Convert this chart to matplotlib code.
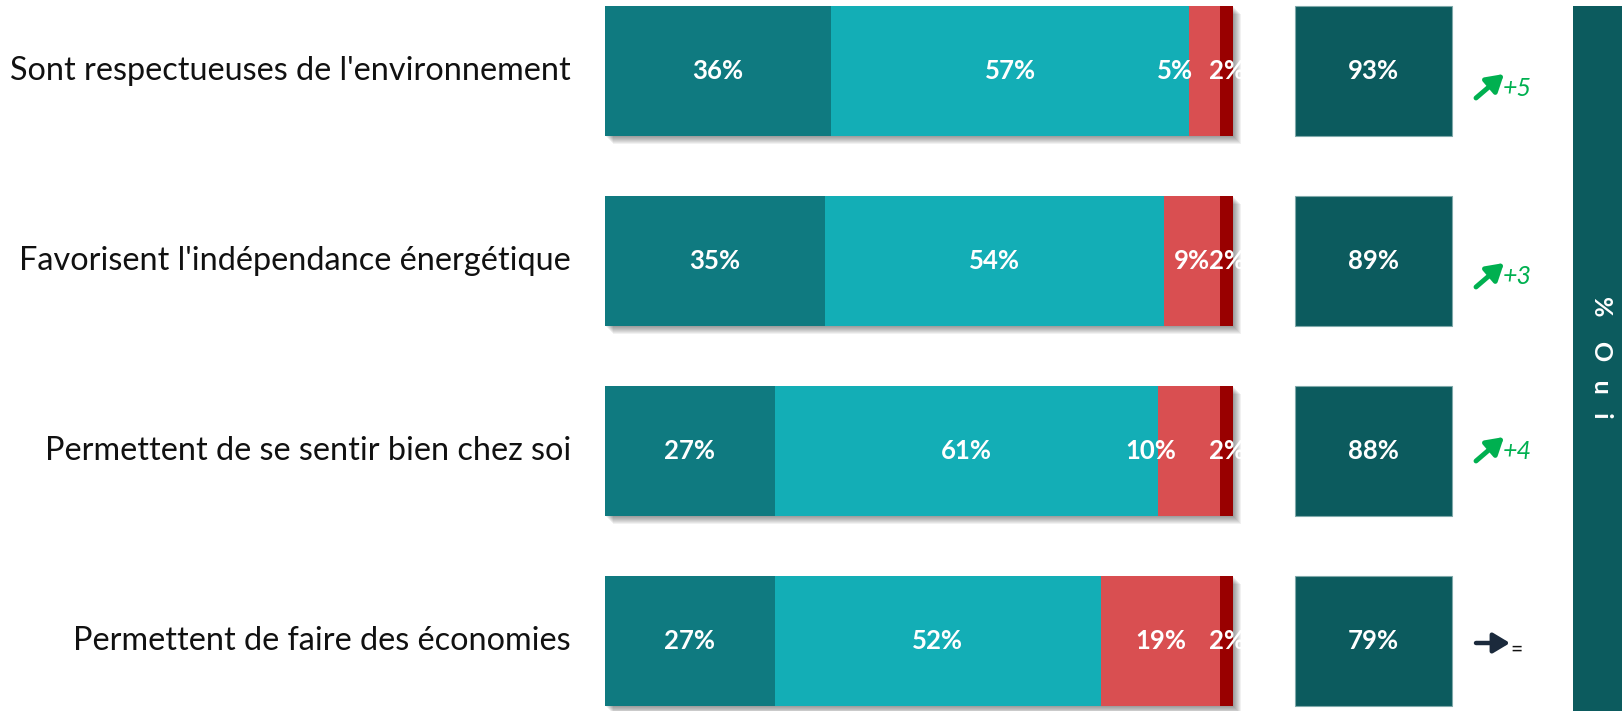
import numpy as np
import matplotlib
matplotlib.use('Agg')
import matplotlib.pyplot as plt
from matplotlib.patches import Rectangle

# 데이터
categories = [
    "Sont respectueuses de l'environnement",
    "Favorisent l'indépendance énergétique",
    "Permettent de se sentir bien chez soi",
    "Permettent de faire des économies",
]
tout_a_fait = [36, 35, 27, 27]
plutot_oui = [57, 54, 61, 52]
plutot_non = [5, 9, 10, 19]
pas_du_tout = [2, 2, 2, 2]
totals = [93, 89, 88, 79]
trends = ['+5', '+3', '+4', '=']
trend_dirs = ['up', 'up', 'up', 'flat']
side_label = '%    O   u   i'

colors = ['#0F7A80', '#13AEB6', '#D94F51', '#990000']
box_color = '#0C5B5E'
green = '#00B050'
navy = '#1B2A3C'

plt.rcParams['font.family'] = ['Lato', 'DejaVu Sans']

W, H, DPI = 1622, 711, 100
fig = plt.figure(figsize=(W / DPI, H / DPI), dpi=DPI)
ax = fig.add_axes([0, 0, 1, 1])

# 픽셀 -> 데이터 단위 (x: 퍼센트, y: 행 번호)
px_x = 6.28      # 1% 당 픽셀
px_y = 190.0     # 행 간격 픽셀
x0 = 605         # 막대 시작 픽셀
y0 = 71          # 첫 행 중심 픽셀
ax.set_xlim(-x0 / px_x, (W - x0) / px_x)
ax.set_ylim((H - y0) / px_y, -y0 / px_y)
ax.axis('off')

n = len(categories)
y = np.arange(n)
bar_h = 130 / px_y

# 그림자 (오른쪽 아래)
for k in range(8, 0, -1):
    off_x = k * 1.0 / px_x
    off_y = k * 1.0 / px_y
    for yi in y:
        ax.add_patch(Rectangle((off_x, yi - bar_h / 2 + off_y), 100, bar_h,
                               facecolor='#000000', alpha=0.055, lw=0, zorder=1))

series = [tout_a_fait, plutot_oui, plutot_non, pas_du_tout]
label_shift = {(2, 0): -30, (2, 2): -38}   # 원본에서 수동으로 옮겨진 라벨 (픽셀)
left = np.zeros(n)
for si, vals in enumerate(series):
    vals = np.array(vals, dtype=float)
    ax.barh(y, vals, left=left, height=bar_h, color=colors[si], lw=0, zorder=2)
    for ri in range(n):
        cx = left[ri] + vals[ri] / 2 + label_shift.get((si, ri), 0) / px_x
        ax.text(cx, y[ri], f'{int(vals[ri])}%', ha='center', va='center',
                color='white', fontsize=18.5, fontweight='bold', zorder=4)
    left += vals

# 카테고리 라벨
for ri, cat in enumerate(categories):
    ax.text(-34 / px_x, y[ri], cat, ha='right', va='center',
            fontsize=23.3, color='#111111')

# 합계 박스
box_left = (1295 - x0) / px_x
box_w = (1452 - 1295) / px_x
ax.barh(y, [box_w] * n, left=box_left, height=bar_h, color=box_color,
        edgecolor='#7FA9AA', lw=0.8, zorder=2)
for ri, t in enumerate(totals):
    ax.text(box_left + box_w / 2, y[ri], f'{t}%', ha='center', va='center',
            color='white', fontsize=18.5, fontweight='bold', zorder=4)

# 추세 화살표
trend_dy = [17, 16, 0, 2]
ax_start = (1476 - x0) / px_x
for ri, (tr, d) in enumerate(zip(trends, trend_dirs)):
    yc = y[ri] + trend_dy[ri] / px_y
    if d == 'up':
        ax.annotate('', xy=(ax_start + 28 / px_x, yc - 14 / px_y),
                    xytext=(ax_start, yc + 10 / px_y),
                    arrowprops=dict(arrowstyle='-|>,head_length=1.0,head_width=0.6',
                                    lw=3.5, color=green, shrinkA=0, shrinkB=0))
        ax.text(ax_start + 27 / px_x, yc, tr, ha='left', va='center',
                fontsize=18, style='italic', color=green)
    else:
        ax.annotate('', xy=(ax_start + 34 / px_x, yc),
                    xytext=(ax_start, yc),
                    arrowprops=dict(arrowstyle='-|>,head_length=1.0,head_width=0.6',
                                    lw=3.2, color=navy, shrinkA=0, shrinkB=0))
        ax.text(ax_start + 34 / px_x, yc + 7 / px_y, tr, ha='left', va='center',
                fontsize=15, color='#111111')

# 오른쪽 세로 막대
vb_left = (1573 - x0) / px_x
vb_top = (6 - y0) / px_y
ax.add_patch(Rectangle((vb_left, vb_top), (W - 1573 + 5) / px_x, (H - 6 + 5) / px_y,
                       facecolor=box_color, lw=0, zorder=2))
ax.text((1601 - x0) / px_x, (357 - y0) / px_y, side_label, rotation=-90,
        ha='center', va='center', color='white', fontsize=18, fontweight='bold',
        zorder=4)

fig.savefig('out.png', dpi=DPI)
